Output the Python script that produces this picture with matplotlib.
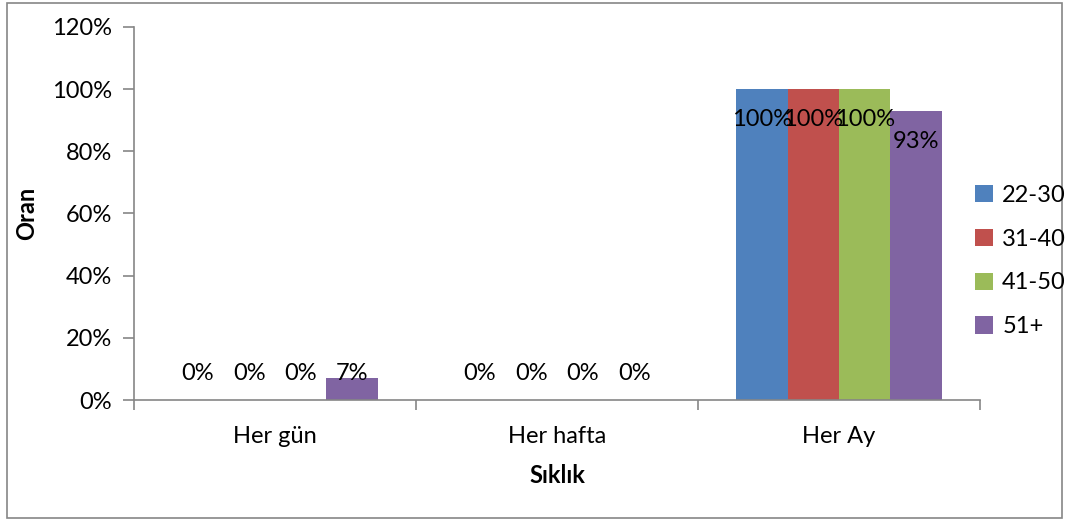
import numpy as np
import matplotlib.pyplot as plt
from matplotlib.patches import Rectangle
from matplotlib.ticker import PercentFormatter

plt.rcParams['font.family'] = ['Lato', 'DejaVu Sans']

# veriler
kategoriler = ['Her gün', 'Her hafta', 'Her Ay']
gruplar = ['22-30', '31-40', '41-50', '51+']
oran_22_30 = [0.00, 0.00, 1.00]
oran_31_40 = [0.00, 0.00, 1.00]
oran_41_50 = [0.00, 0.00, 1.00]
oran_51 = [0.07, 0.00, 0.93]
seriler = [oran_22_30, oran_31_40, oran_41_50, oran_51]
renkler = ['#4F81BD', '#C0504D', '#9BBB59', '#8064A2']

fig = plt.figure(figsize=(10.68, 5.22), dpi=100)
ax = fig.add_axes([0.1255, 0.2337, 0.7921, 0.7146])

# dış çerçeve
fig.patches.append(Rectangle((0.007, 0.007), 0.987, 0.988, transform=fig.transFigure,
                             fill=False, edgecolor='#868686', linewidth=1.2))

x = np.arange(len(kategoriler))
w = 0.73 / len(gruplar)
for i, (seri, renk, ad) in enumerate(zip(seriler, renkler, gruplar)):
    pos = x + (i - 1.5) * w
    ax.bar(pos, seri, width=w, color=renk, label=ad)
    for px, v in zip(pos, seri):
        ax.text(px, max(v - 0.097, 0.085), f"{v*100:.0f}%", ha='center', va='center',
                fontsize=17, color='black')

ax.set_xlim(-0.5, 2.5)
ax.set_ylim(0, 1.2)
ax.set_yticks(np.arange(0, 1.21, 0.2))
ax.yaxis.set_major_formatter(PercentFormatter(1.0, decimals=0))
ax.set_xticks(x)
ax.set_xticklabels(kategoriler)
ax.set_xticks([-0.5, 0.5, 1.5, 2.5], minor=True)
ax.tick_params(axis='x', which='major', length=0, pad=19, labelsize=17)
ax.tick_params(axis='x', which='minor', length=7, color='#868686', width=1.2)
ax.tick_params(axis='y', length=8, color='#868686', width=1.2, labelsize=17, pad=8)

for s in ['top', 'right']:
    ax.spines[s].set_visible(False)
for s in ['left', 'bottom']:
    ax.spines[s].set_color('#868686')
    ax.spines[s].set_linewidth(1.2)

ax.set_xlabel('Sıklık', fontsize=17, fontweight='bold', labelpad=12)
ax.set_ylabel('Oran', fontsize=17, fontweight='bold', labelpad=10)

fig.legend(loc='center left', bbox_to_anchor=(0.913, 0.50), frameon=False, fontsize=17,
           handlelength=0.75, handleheight=0.75, handletextpad=0.4, labelspacing=0.97,
           borderaxespad=0, borderpad=0)

fig.savefig('out.png', dpi=100)
